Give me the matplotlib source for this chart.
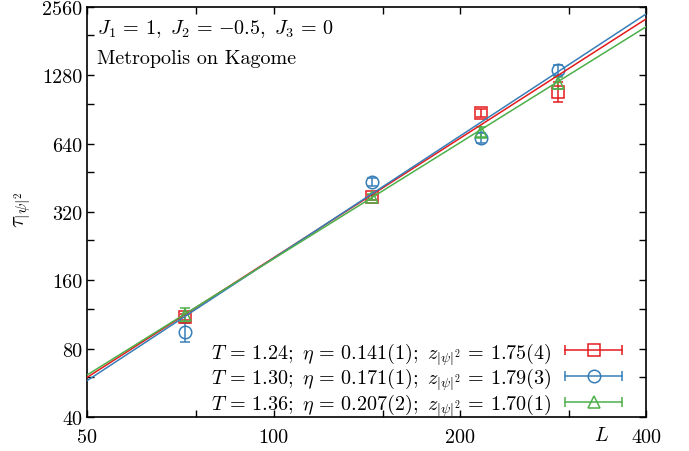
import numpy as np
import matplotlib.pyplot as plt
from matplotlib.lines import Line2D
from matplotlib.container import ErrorbarContainer
from matplotlib.legend_handler import HandlerBase
from matplotlib.ticker import NullFormatter

plt.rcParams['font.family'] = 'cmr10'
plt.rcParams['mathtext.fontset'] = 'cm'
plt.rcParams['axes.formatter.use_mathtext'] = True
plt.rcParams['font.size'] = 14.5

# system sizes
L = [72, 144, 216, 288]

# autocorrelation times and errors, one list per temperature
tau_124 = [110, 371, 876, 1083]
err_124 = [3.5, 11, 36, 110]
tau_130 = [94.5, 436, 680, 1353]
err_130 = [9, 18, 35, 70]
tau_136 = [113, 374, 723, 1186]
err_136 = [8, 11, 36, 72]

temps = ['1.24', '1.30', '1.36']
etas = ['0.141(1)', '0.171(1)', '0.207(2)']
z_text = ['1.75(4)', '1.79(3)', '1.70(1)']

# power-law fits: tau = tau100 * (L/100)^z
z_fit = [1.75, 1.79, 1.70]
tau100 = [201, 200, 199]

colors = ['#e41a1c', '#377eb8', '#4daf4a']
markers = ['s', 'o', '^']

xticks = [50, 100, 200, 400]
xminor = [75, 150, 300]
yticks = [40, 80, 160, 320, 640, 1280, 2560]
yminor = [60, 120, 240, 480, 960, 1920]


class XErrHandler(HandlerBase):
    # gnuplot style key sample: horizontal bar with caps, marker in the middle
    def create_artists(self, legend, orig_handle, xdescent, ydescent,
                       width, height, fontsize, trans):
        dl = orig_handle.lines[0]
        c = dl.get_markeredgecolor()
        y = height / 2 - ydescent
        x0, x1 = -xdescent, width - xdescent
        bar = Line2D([x0, x1], [y, y], color=c, lw=1.1)
        caps = Line2D([x0, x1], [y, y], ls='none', marker='|', ms=7, mew=1.1, color=c)
        mk = Line2D([(x0 + x1) / 2], [y], ls='none', marker=dl.get_marker(),
                    ms=9, mfc='none', mec=c, mew=1.1)
        for a in (bar, caps, mk):
            a.set_transform(trans)
        return [bar, caps, mk]


fig, ax = plt.subplots(figsize=(6.89, 4.52), dpi=100)
fig.subplots_adjust(left=0.1263, right=0.9383, top=0.9823, bottom=0.0752)

series = [tau_124, tau_130, tau_136]
errors = [err_124, err_130, err_136]
Lfit = np.geomspace(50, 400, 60)

for i in range(3):
    ax.plot(Lfit, tau100[i] * (Lfit / 100) ** z_fit[i], color=colors[i], lw=1.1, zorder=3)
    lab = (rf'$T\,=\,{temps[i]};\ \eta\,=\,{etas[i]};\ '
           rf'z_{{|\psi|^2}}\,=\,{z_text[i]}$')
    ax.errorbar(L, series[i], yerr=errors[i], fmt=markers[i], ms=9, mfc='none',
                mec=colors[i], mew=1.1, color=colors[i], elinewidth=1.1,
                capsize=3.5, capthick=1.1, label=lab, zorder=2)

ax.set_xscale('log')
ax.set_yscale('log')
ax.set_xlim(50, 400)
ax.set_ylim(40, 2560)
ax.set_xticks(xticks, [str(v) for v in xticks])
ax.set_xticks(xminor, minor=True)
ax.set_yticks(yticks, [str(v) for v in yticks])
ax.set_yticks(yminor, minor=True)
ax.xaxis.set_minor_formatter(NullFormatter())
ax.yaxis.set_minor_formatter(NullFormatter())
ax.tick_params(which='both', direction='in', top=True, right=True, length=5, width=1.0)
ax.tick_params(axis='x', pad=8)
for s in ax.spines.values():
    s.set_linewidth(1.2)

ax.set_xlabel('$L$')
ax.xaxis.set_label_coords(0.919, -0.022)
ax.set_ylabel(r'$\tau_{|\psi|^2}$', fontsize=16)
ax.yaxis.set_label_coords(-0.098, 0.507)

ax.text(0.018, 0.976, r'$J_1\,=\,1,\ J_2\,=\,{-0.5},\ J_3\,=\,0$', transform=ax.transAxes, va='top')
ax.text(0.018, 0.898, 'Metropolis on Kagome', transform=ax.transAxes, va='top')

ax.legend(handler_map={ErrorbarContainer: XErrHandler()}, loc='lower right',
          bbox_to_anchor=(0.956, 0.0), frameon=False, markerfirst=False,
          handlelength=2.8, handletextpad=0.7, labelspacing=-0.02,
          borderpad=0, borderaxespad=0)

fig.savefig('out.png', dpi=100)
